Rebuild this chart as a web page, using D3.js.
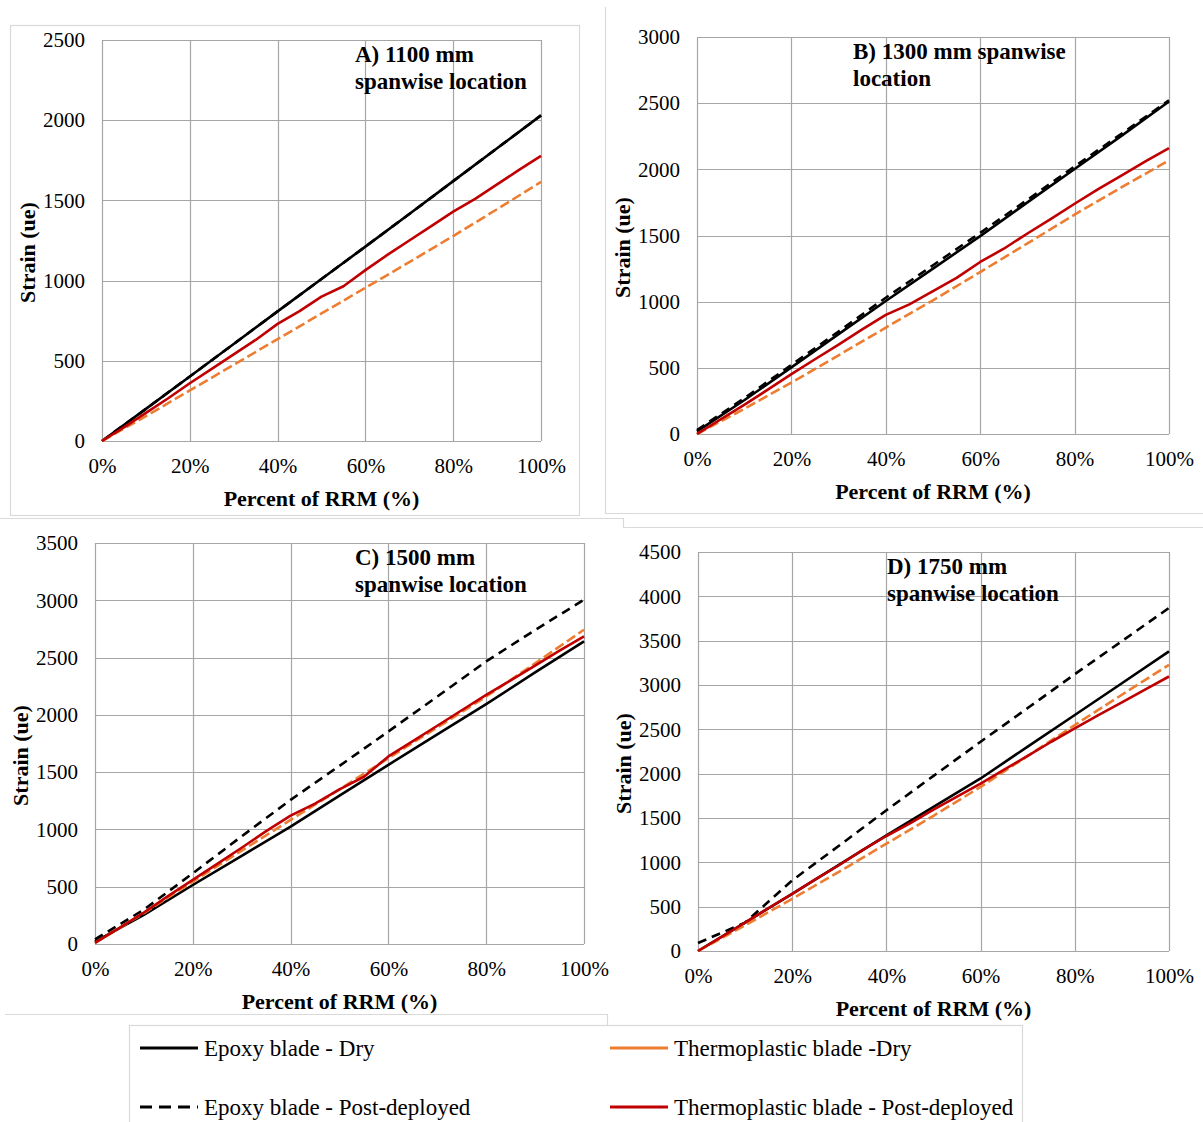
<!DOCTYPE html>
<html>
<head>
<meta charset="utf-8">
<script src="https://cdn.jsdelivr.net/npm/d3@7"></script>
<style>
  body { margin: 0; background: #fff; }
  text { font-family: "Liberation Serif", "Times New Roman", serif; fill: #000; }
</style>
</head>
<body>
<svg id="chart" width="1203" height="1122"></svg>
<script>
'use strict';

// percent of RRM where each value was read
const pct = [0, 10, 20, 30, 40, 50, 60, 70, 80, 90, 100];
// red curves were read more finely, they step a little
const pctFine = [0, 5, 10, 15, 20, 25, 30, 35, 40, 45, 50, 55, 60, 65, 70, 75, 80, 85, 90, 95, 100];
const xTicks = [0, 20, 40, 60, 80, 100];

// A) 1100 mm
const epoxyDryA   = [0, 200, 402, 605, 808, 1010, 1212, 1415, 1620, 1825, 2030];
const epoxyPostA  = [0, 200, 402, 605, 808, 1010, 1212, 1415, 1620, 1825, 2030];
const thermoDryA  = [0, 155, 315, 475, 635, 795, 955, 1115, 1278, 1445, 1615];
const thermoPostA = [0, 85, 175, 265, 360, 450, 540, 630, 730, 810, 900, 965, 1065, 1160, 1250, 1340, 1430, 1510, 1600, 1690, 1778];

// B) 1300 mm
const epoxyDryB   = [20, 255, 503, 755, 1005, 1250, 1495, 1750, 2003, 2255, 2513];
const epoxyPostB  = [30, 270, 522, 775, 1030, 1275, 1520, 1770, 2022, 2270, 2522];
const thermoDryB  = [0, 190, 389, 595, 804, 1010, 1224, 1440, 1658, 1865, 2068];
const thermoPostB = [0, 110, 220, 335, 452, 565, 675, 790, 900, 980, 1080, 1180, 1300, 1400, 1515, 1625, 1740, 1850, 1955, 2060, 2161];

// C) 1500 mm
const epoxyDryC   = [20, 255, 515, 770, 1025, 1295, 1564, 1830, 2094, 2370, 2641];
const epoxyPostC  = [40, 300, 617, 940, 1258, 1555, 1855, 2160, 2467, 2740, 3005];
const thermoDryC  = [10, 270, 545, 815, 1083, 1350, 1622, 1890, 2160, 2450, 2743];
const thermoPostC = [10, 140, 275, 420, 559, 700, 840, 985, 1120, 1225, 1350, 1460, 1637, 1770, 1905, 2040, 2175, 2300, 2430, 2560, 2685];

// D) 1750 mm
const epoxyDryD   = [0, 320, 645, 975, 1305, 1625, 1946, 2305, 2662, 3020, 3379];
const epoxyPostD  = [90, 320, 796, 1190, 1587, 1975, 2360, 2740, 3122, 3495, 3869];
const thermoDryD  = [0, 290, 588, 895, 1210, 1525, 1851, 2200, 2549, 2890, 3228];
const thermoPostD = [0, 160, 320, 485, 645, 810, 970, 1140, 1297, 1440, 1595, 1740, 1889, 2045, 2200, 2360, 2511, 2660, 2805, 2950, 3096];

const yTicksA = [0, 500, 1000, 1500, 2000, 2500];
const yTicksB = [0, 500, 1000, 1500, 2000, 2500, 3000];
const yTicksC = [0, 500, 1000, 1500, 2000, 2500, 3000, 3500];
const yTicksD = [0, 500, 1000, 1500, 2000, 2500, 3000, 3500, 4000, 4500];

const seriesNames = ["Epoxy blade - Dry", "Thermoplastic blade -Dry",
                     "Epoxy blade - Post-deployed", "Thermoplastic blade - Post-deployed"];

const BLACK = "#000000", ORANGE = "#ed7d31", RED = "#c00000";
const GRID = "#a6a6a6", FRAME = "#d9d9d9";

const svg = d3.select("#chart");

// light frames round each pasted panel
const frames = svg.append("g").attr("fill", "none").attr("stroke", FRAME).attr("stroke-width", 1.2);
frames.append("rect").attr("x", 10.5).attr("y", 25.5).attr("width", 569).attr("height", 490);
frames.append("path").attr("d", "M605.5,7 V513.5 H1203");
frames.append("path").attr("d", "M0,518.5 H623.5 V527.5 H1203");
frames.append("path").attr("d", "M5,1014.5 H607.5 V1025.5");
frames.append("rect").attr("x", 129.5).attr("y", 1025.5).attr("width", 893).attr("height", 110);

const panels = [
  { box: [102, 541, 40, 441],  ticks: yTicksA, title: ["A) 1100 mm", "spanwise location"],   tx: 355,
    s: [epoxyPostA, epoxyDryA, thermoDryA, thermoPostA] },
  { box: [697, 1169, 37, 434], ticks: yTicksB, title: ["B) 1300 mm spanwise", "location"],   tx: 853,
    s: [epoxyPostB, epoxyDryB, thermoDryB, thermoPostB] },
  { box: [95, 584, 543, 944],  ticks: yTicksC, title: ["C) 1500 mm", "spanwise location"],   tx: 355,
    s: [epoxyPostC, epoxyDryC, thermoDryC, thermoPostC] },
  { box: [698, 1169, 552, 951], ticks: yTicksD, title: ["D) 1750 mm", "spanwise location"],  tx: 887,
    s: [epoxyPostD, epoxyDryD, thermoDryD, thermoPostD] }
];

// draw order: dashed epoxy, solid epoxy, orange, red
const styles = [
  { color: BLACK,  dash: "9,6" },
  { color: BLACK,  dash: null },
  { color: ORANGE, dash: "10,4" },
  { color: RED,    dash: null }
];

panels.forEach(function(p) {
  const [x0, x1, y0, y1] = p.box;
  const ymax = p.ticks[p.ticks.length - 1];
  const x = d3.scaleLinear().domain([0, 100]).range([x0, x1]);
  const y = d3.scaleLinear().domain([0, ymax]).range([y1, y0]);
  const g = svg.append("g");

  // gridlines
  g.append("g").selectAll("line").data(p.ticks).join("line")
    .attr("x1", x0).attr("x2", x1)
    .attr("y1", d => Math.round(y(d)) + 0.5).attr("y2", d => Math.round(y(d)) + 0.5)
    .attr("stroke", GRID).attr("stroke-width", 1.2);
  g.append("g").selectAll("line").data(xTicks).join("line")
    .attr("x1", d => Math.round(x(d)) + 0.5).attr("x2", d => Math.round(x(d)) + 0.5)
    .attr("y1", y0).attr("y2", y1)
    .attr("stroke", GRID).attr("stroke-width", 1.2);

  // tick labels through d3 axes, without tick marks
  const yAxis = g.append("g").attr("transform", `translate(${x0},0)`)
    .call(d3.axisLeft(y).tickValues(p.ticks).tickFormat(d3.format("d")).tickSize(0).tickPadding(17));
  const xAxis = g.append("g").attr("transform", `translate(0,${y1})`)
    .call(d3.axisBottom(x).tickValues(xTicks).tickFormat(d => d + "%").tickSize(0).tickPadding(17));
  [yAxis, xAxis].forEach(function(a) {
    a.select(".domain").remove();
    a.selectAll("text").attr("font-size", 21).attr("fill", "#000");
  });

  // series
  p.s.forEach(function(vals, k) {
    const xs = vals.length === pctFine.length ? pctFine : pct;
    const line = d3.line().x((d, i) => x(xs[i])).y(d => y(d));
    g.append("path").datum(vals)
      .attr("d", line)
      .attr("fill", "none")
      .attr("stroke", styles[k].color)
      .attr("stroke-width", 2.6)
      .attr("stroke-linejoin", "round")
      .attr("stroke-dasharray", styles[k].dash);
  });

  // panel title
  p.title.forEach(function(t, i) {
    g.append("text").attr("x", p.tx).attr("y", y0 + 22 + i * 27)
      .attr("font-size", 23).attr("font-weight", "bold").text(t);
  });

  // axis titles
  g.append("text").attr("x", (x0 + x1) / 2).attr("y", y1 + 65)
    .attr("text-anchor", "middle").attr("font-size", 22).attr("font-weight", "bold")
    .text("Percent of RRM (%)");
  g.append("text")
    .attr("transform", `translate(${x0 - 67},${(y0 + y1) / 2 + 12}) rotate(-90)`)
    .attr("text-anchor", "middle").attr("font-size", 22).attr("font-weight", "bold")
    .text("Strain (ue)");
});

// legend
const legendPos = [[140, 1048], [610, 1048], [140, 1107], [610, 1107]];
const legendStyle = [
  { color: BLACK,  dash: null },
  { color: ORANGE, dash: null },
  { color: BLACK,  dash: "12,7" },
  { color: RED,    dash: null }
];
const legend = svg.append("g");
seriesNames.forEach(function(name, i) {
  const [lx, ly] = legendPos[i];
  legend.append("line").attr("x1", lx).attr("x2", lx + 58).attr("y1", ly).attr("y2", ly)
    .attr("stroke", legendStyle[i].color).attr("stroke-width", 3)
    .attr("stroke-dasharray", legendStyle[i].dash);
  legend.append("text").attr("x", lx + 64).attr("y", ly + 8)
    .attr("font-size", 23).text(name);
});
</script>
</body>
</html>
